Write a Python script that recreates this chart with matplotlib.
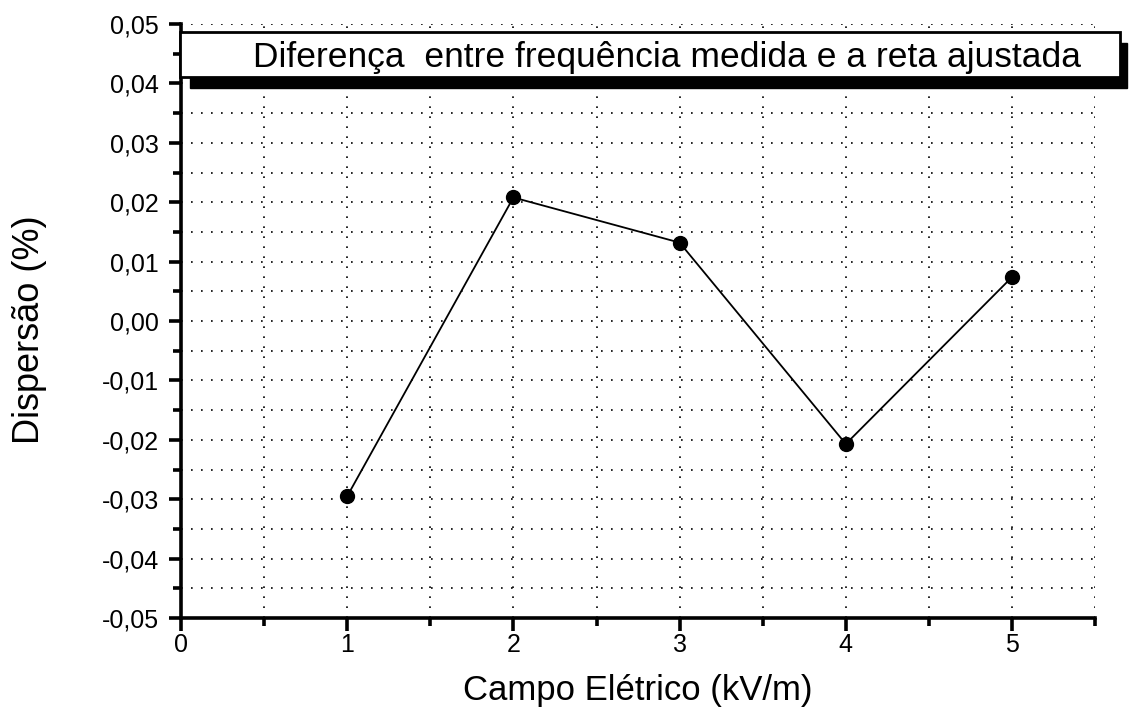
import matplotlib
matplotlib.use('Agg')
from matplotlib import pyplot as plt
from matplotlib.ticker import MultipleLocator, FuncFormatter
from matplotlib.patches import Rectangle

# dados
campo = [1, 2, 3, 4, 5]
dispersao = [-0.0295, 0.0208, 0.0132, -0.0207, 0.0074]

plt.rcParams['font.family'] = ['Liberation Sans', 'DejaVu Sans']


def fmt_virgula(v, pos):
    v = round(v, 4) + 0.0
    if abs(v) < 1e-9:
        v = 0.0
    return ('%.2f' % v).replace('.', ',')


fig = plt.figure(figsize=(11.29, 7.11), dpi=100)
ax = fig.add_axes([0.1603, 0.1308, 0.8097, 0.8354])

ax.plot(campo, dispersao, c='black', lw=1.3, marker='o', markersize=10, zorder=3)

ax.set_xlim(0, 5.5)
ax.set_ylim(-0.05, 0.05)
ax.xaxis.set_major_locator(MultipleLocator(1))
ax.xaxis.set_minor_locator(MultipleLocator(0.5))
ax.yaxis.set_major_locator(MultipleLocator(0.01))
ax.yaxis.set_minor_locator(MultipleLocator(0.005))
ax.yaxis.set_major_formatter(FuncFormatter(fmt_virgula))

ax.grid(True, which='both', color='black', ls=(0, (1, 5)), lw=1.2)

for s in ['top', 'right']:
    ax.spines[s].set_visible(False)
for s in ['left', 'bottom']:
    ax.spines[s].set_linewidth(2.6)

ax.tick_params(axis='both', which='major', direction='out', length=9, width=2.6, labelsize=18, pad=7)
ax.tick_params(axis='x', which='major', pad=2)
ax.tick_params(axis='both', which='minor', direction='out', length=6, width=2.6)

ax.set_xlabel('Campo Elétrico (kV/m)', fontsize=25, labelpad=12)
ax.set_ylabel('Dispersão (%)', fontsize=26)
ax.yaxis.set_label_coords(-0.147, 0.485)

# caixa do titulo com sombra
shadow = Rectangle((0.0098, 0.892), 1.025, 0.076, transform=ax.transAxes,
                   facecolor='black', edgecolor='black', clip_on=False, zorder=4)
box = Rectangle((-0.001, 0.911), 1.028, 0.076, transform=ax.transAxes,
                facecolor='white', edgecolor='black', lw=2, clip_on=False, zorder=5)
ax.add_patch(shadow)
ax.add_patch(box)
ax.text(0.532, 0.944, 'Diferença  entre frequência medida e a reta ajustada',
        transform=ax.transAxes, ha='center', va='center', fontsize=25.5, zorder=6)

fig.savefig('out.png', dpi=100)
